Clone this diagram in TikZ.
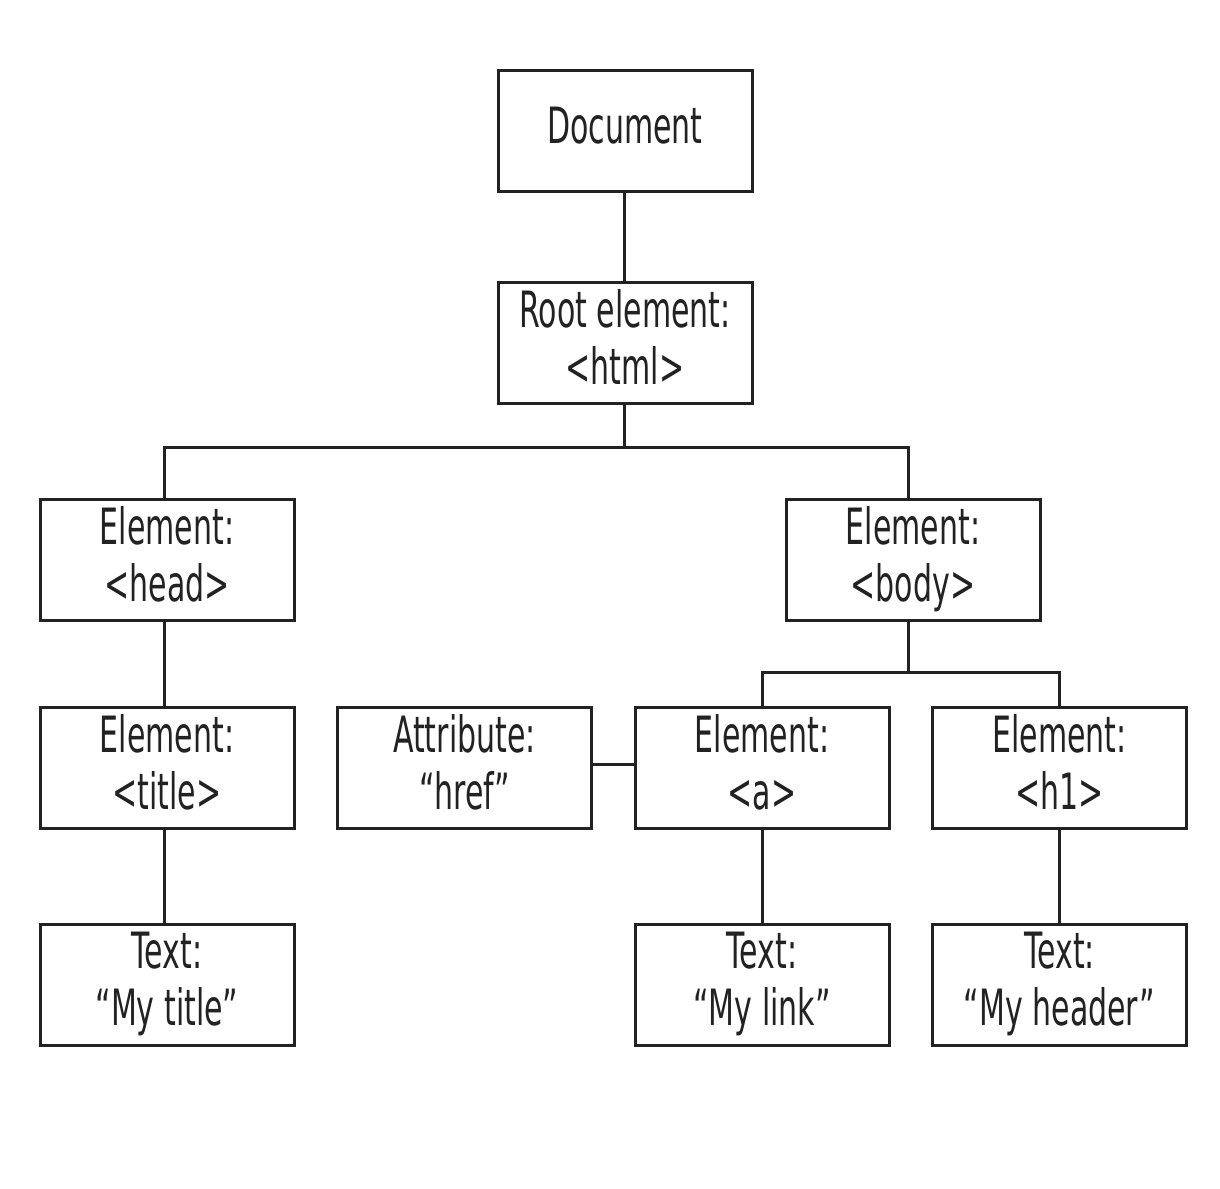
\documentclass[tikz,border=0pt]{standalone}
\usepackage{fontspec}
\setmainfont[FakeStretch=0.6]{DejaVu Sans}
\definecolor{ink}{HTML}{222222}
\begin{document}
\begin{tikzpicture}[x=1pt,y=-1pt,
  box/.style={draw=ink,line width=3pt,minimum width=254pt,minimum height=121pt,inner sep=0pt,align=center,text=ink,
    font=\fontsize{50}{57}\selectfont,execute at end node={\rule[-12pt]{0pt}{0pt}}},
  link/.style={draw=ink,line width=3pt}]
\useasboundingbox (0,0) rectangle (1220,1188);
\fill[white] (0,0) rectangle (1220,1188);
\node[box] (doc) at (625,131) {Document};
\node[box] (root) at (625,343) {Root element:\\<html>};
\node[box] (head) at (167,560) {Element:\\<head>};
\node[box] (body) at (913,560) {Element:\\<body>};
\node[box] (title) at (167,768) {Element:\\<title>};
\node[box] (attr) at (464.5,768) {Attribute:\\“href”};
\node[box] (a) at (762,768) {Element:\\<a>};
\node[box] (h1) at (1059.5,768) {Element:\\<h1>};
\node[box] (ttitle) at (167,985) {Text:\\“My title”};
\node[box] (tlink) at (762,985) {Text:\\“My link”};
\node[box] (theader) at (1059.5,985) {Text:\\“My header”};
\coordinate (j1) at (624,447);
\coordinate (j2) at (908,672);
\coordinate (ja) at (0,764);
\draw[link] (doc.south -| j1) -- (root.north -| j1);
\draw[link] (root.south -| j1) -- (j1);
\draw[link] (head.north -| 164,0) |- (j1) -| (body.north -| j2);
\draw[link] (body.south -| j2) -- (j2);
\draw[link] (a.north) |- (j2) -| (h1.north);
\draw[link] (head.south -| 164,0) -- (title.north -| 164,0);
\draw[link] (title.south -| 164,0) -- (ttitle.north -| 164,0);
\draw[link] (attr.east |- ja) -- (a.west |- ja);
\draw[link] (a.south) -- (tlink.north);
\draw[link] (h1.south) -- (theader.north);
\end{tikzpicture}
\end{document}
